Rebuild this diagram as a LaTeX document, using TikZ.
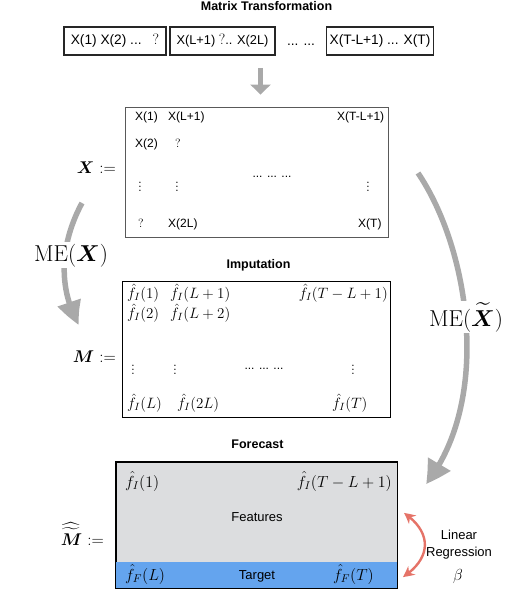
\RequirePackage{fix-cm}
\documentclass[tikz,border=0pt]{standalone}
\usepackage{amsmath}
\usepackage{fontspec}
\setsansfont{Liberation Sans}
\usetikzlibrary{arrows.meta,bending}
\definecolor{arrowgray}{HTML}{A9A9A9}
\definecolor{featgray}{HTML}{DCDDDF}
\definecolor{targblue}{HTML}{64A4EE}
\definecolor{regred}{HTML}{E57368}
\tikzset{
  ttl/.style={font=\fontsize{12.5}{15}\selectfont\sffamily\bfseries, inner sep=0pt, anchor=base},
  tbox/.style={draw=black!85, line width=1.1pt, minimum height=28pt, inner sep=0pt,
    font=\fontsize{13.7}{16}\selectfont\sffamily},
  ent/.style={font=\fontsize{12}{14}\selectfont\sffamily, inner sep=0pt, anchor=base west},
  mth/.style={font=\fontsize{15}{18}\selectfont, inner sep=0pt, anchor=base west},
  fmth/.style={font=\fontsize{16}{19}\selectfont, inner sep=0pt, anchor=base west},
  vd/.style={font=\fontsize{14}{16}\selectfont, inner sep=0pt, anchor=base},
  lbl/.style={font=\fontsize{17}{20}\selectfont, inner sep=0pt, anchor=base east},
  melbl/.style={font=\fontsize{23}{27}\selectfont, inner sep=1.5pt, fill=white, anchor=base},
  plain/.style={font=\fontsize{13}{15.5}\selectfont\sffamily, inner sep=0pt, anchor=base},
  garrow/.style={draw=arrowgray, line width=5.5pt},
  rarrow/.style={draw=regred, line width=2.4pt,
    {Stealth[length=11pt,width=11pt,bend]}-{Stealth[length=11pt,width=11pt,bend]}}
}
\begin{document}
\begin{tikzpicture}[x=1pt,y=-1pt]
\useasboundingbox (0,0) rectangle (524,596);

% titles
\node[ttl] (t1) at (266.5,11) {Matrix Transformation};
\node[ttl] (t2) at (258.5,268) {Imputation};
\node[ttl] (t3) at (257.5,448) {Forecast};

% top boxes
\node[tbox, minimum width=102pt] (b1) at (115,41) {X(1) X(2) ...\hspace{11pt}{\rmfamily\fontsize{15}{16}\selectfont ?}\hspace{2pt}};
\node[tbox, minimum width=105pt, font=\fontsize{12.8}{15}\selectfont\sffamily] (b2) at (222.5,41) {X(L+1) {\rmfamily\fontsize{15}{16}\selectfont ?}.. X(2L)};
\node[tbox, minimum width=107pt] (b3) at (380,41) {X(T-L+1) ... X(T)};
\node[font=\fontsize{13.7}{16}\selectfont\sffamily, inner sep=0pt, anchor=base] (bd) at (301,46) {... ...};

% matrix X
\node[draw=black!65, line width=0.9pt, minimum width=263pt, minimum height=130pt, inner sep=0pt] (Xbox) at (256.5,172) {};
\node[ent] (x11) at (135,121) {X(1)};
\node[ent] (x12) at (168,121) {X(L+1)};
\node[ent] (x13) at (337,121) {X(T-L+1)};
\node[ent] (x21) at (135,147) {X(2)};
\node[ent] (x22) at (175,147) {\rmfamily ?};
\node[vd] (xv1) at (140,191) {$\vdots$};
\node[vd] (xv2) at (177,191) {$\vdots$};
\node[vd] (xv3) at (368,191) {$\vdots$};
\node[ent, anchor=base] (xdd) at (272,177) {... ... ...};
\node[ent] (x41) at (138,227) {\rmfamily ?};
\node[ent] (x42) at (168,227) {X(2L)};
\node[ent] (x43) at (358,227) {X(T)};
\node[lbl] (Xl) at (116,173) {$\boldsymbol{X}$ $:=$};

% arrow from series to X
\coordinate (va) at (260.5,68);
\draw[garrow, -{Triangle[width=20pt,length=10pt]}] (va) -- ([yshift=12pt]va |- Xbox.north);

% matrix M
\node[draw=black, line width=0.9pt, minimum width=268pt, minimum height=136pt, inner sep=0pt] (Mbox) at (256,349) {};
\node[mth] (m11) at (127,298) {$\hat{f}_I(1)$};
\node[mth] (m12) at (170,298) {$\hat{f}_I(L+1)$};
\node[mth, anchor=base east] (m13) at (388,298) {$\hat{f}_I(T-L+1)$};
\node[mth] (m21) at (127,318) {$\hat{f}_I(2)$};
\node[mth] (m22) at (170,318) {$\hat{f}_I(L+2)$};
\node[vd] (mv1) at (133,374) {$\vdots$};
\node[vd] (mv2) at (175,374) {$\vdots$};
\node[vd] (mv3) at (353,374) {$\vdots$};
\node[ent, anchor=base] (mdd) at (264,369) {... ... ...};
\node[mth] (m41) at (127,408) {$\hat{f}_I(L)$};
\node[mth] (m42) at (177,408) {$\hat{f}_I(2L)$};
\node[mth] (m43) at (332,408) {$\hat{f}_I(T)$};
\node[lbl] (Ml) at (116,362) {$\boldsymbol{M}$ $:=$};

% forecast matrix
\node[draw=black, line width=0.9pt, fill=featgray, minimum width=281pt, minimum height=126pt, inner sep=0pt] (Fbox) at (256.5,525) {};
\fill[targblue] (Fbox.south west) rectangle ([yshift=26pt]Fbox.south east);
\draw[line width=0.9pt] (Fbox.south west) rectangle (Fbox.north east);
\node[fmth] (f11) at (125,487) {$\hat{f}_I(1)$};
\node[fmth, anchor=base east] (f12) at (392,487) {$\hat{f}_I(T-L+1)$};
\node[plain] (feat) at (257,521) {Features};
\node[plain] (targ) at (257,579) {Target};
\node[fmth] (f21) at (125,580) {$\hat{f}_F(L)$};
\node[fmth] (f22) at (333,580) {$\hat{f}_F(T)$};
\node[lbl] (Fl) at (104,545) {$\widehat{\widetilde{\boldsymbol{M}}}$ $:=$};

% ME arrows
\coordinate (l1) at (82,203);
\coordinate (l2) at (79,325);
\draw[garrow, -{Triangle[width=23pt,length=25pt,bend]}] (l1) .. controls (62,240) and (56,285) .. (l2);
\node[melbl] (me1) at (71,261) {$\mathrm{ME}(\boldsymbol{X})$};

\coordinate (r1) at (418,173);
\coordinate (r2) at (426,484);
\draw[garrow, -{Triangle[width=25pt,length=24pt,bend]}] (r1) .. controls (470,250) and (492,400) .. (r2);
\node[melbl] (me2) at (466,326) {$\mathrm{ME}(\widetilde{\boldsymbol{X}})$};

% linear regression
\coordinate (g1) at (404,513);
\coordinate (g2) at (403,577);
\draw[rarrow] (g1) .. controls (432,532) and (432,558) .. (g2);
\node[plain] (lr1) at (459,539) {Linear};
\node[plain] (lr2) at (459,556) {Regression};
\node[font=\fontsize{16}{19}\selectfont, inner sep=0pt, anchor=base] (beta) at (458,580) {$\beta$};
\end{tikzpicture}
\end{document}
